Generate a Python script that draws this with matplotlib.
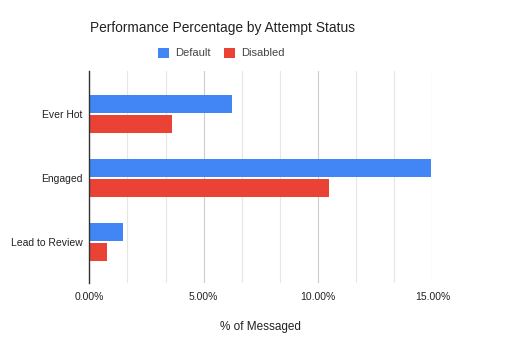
import numpy as np
import matplotlib.pyplot as plt
from matplotlib.ticker import MultipleLocator, FuncFormatter

# data
categories = ['Ever Hot', 'Engaged', 'Lead to Review']
default_pct = [6.25, 14.93, 1.47]
disabled_pct = [3.60, 10.49, 0.79]

plt.rcParams['font.family'] = ['Liberation Sans', 'DejaVu Sans']

fig = plt.figure(figsize=(5.06, 3.58), dpi=100)
ax = fig.add_axes([0.1765, 0.2087, 0.678, 0.593])

y = np.arange(len(categories))
h = 0.29
ax.barh(y - 0.155, default_pct, height=h, color='#4285F4', label='Default', zorder=3)
ax.barh(y + 0.155, disabled_pct, height=h, color='#EA4335', label='Disabled', zorder=3)

ax.set_xlim(0, 15)
ax.set_ylim(2.645, -0.67)
ax.set_yticks(y)
ax.set_yticklabels(categories, fontsize=7.5, color='#222222')

ax.xaxis.set_major_locator(MultipleLocator(5))
ax.xaxis.set_minor_locator(MultipleLocator(5 / 3))
ax.xaxis.set_major_formatter(FuncFormatter(lambda v, p: f'{v:.2f}%'))
ax.tick_params(axis='x', which='both', length=0, labelsize=7.5, labelcolor='#222222', pad=6)
ax.tick_params(axis='y', length=0, pad=5)

ax.grid(axis='x', which='major', color='#cccccc', linewidth=0.8, zorder=0)
ax.grid(axis='x', which='minor', color='#e6e6e6', linewidth=0.8, zorder=0)

for s in ['top', 'right', 'bottom']:
    ax.spines[s].set_visible(False)
ax.spines['left'].set_color('#333333')
ax.spines['left'].set_linewidth(1)
ax.spines['left'].set_zorder(4)

ax.set_xlabel('% of Messaged', fontsize=8.5, color='#222222', labelpad=14)

fig.text(0.178, 0.922, 'Performance Percentage by Attempt Status', fontsize=9.9,
         color='#222222', va='center', ha='left')

ax.legend(loc='center', bbox_to_anchor=(0.438, 0.852), bbox_transform=fig.transFigure,
          ncol=2, frameon=False, fontsize=8, handlelength=1.0, handleheight=1.0,
          columnspacing=1.2, handletextpad=0.55, labelcolor='#444444')

fig.savefig('out.png', dpi=100)
